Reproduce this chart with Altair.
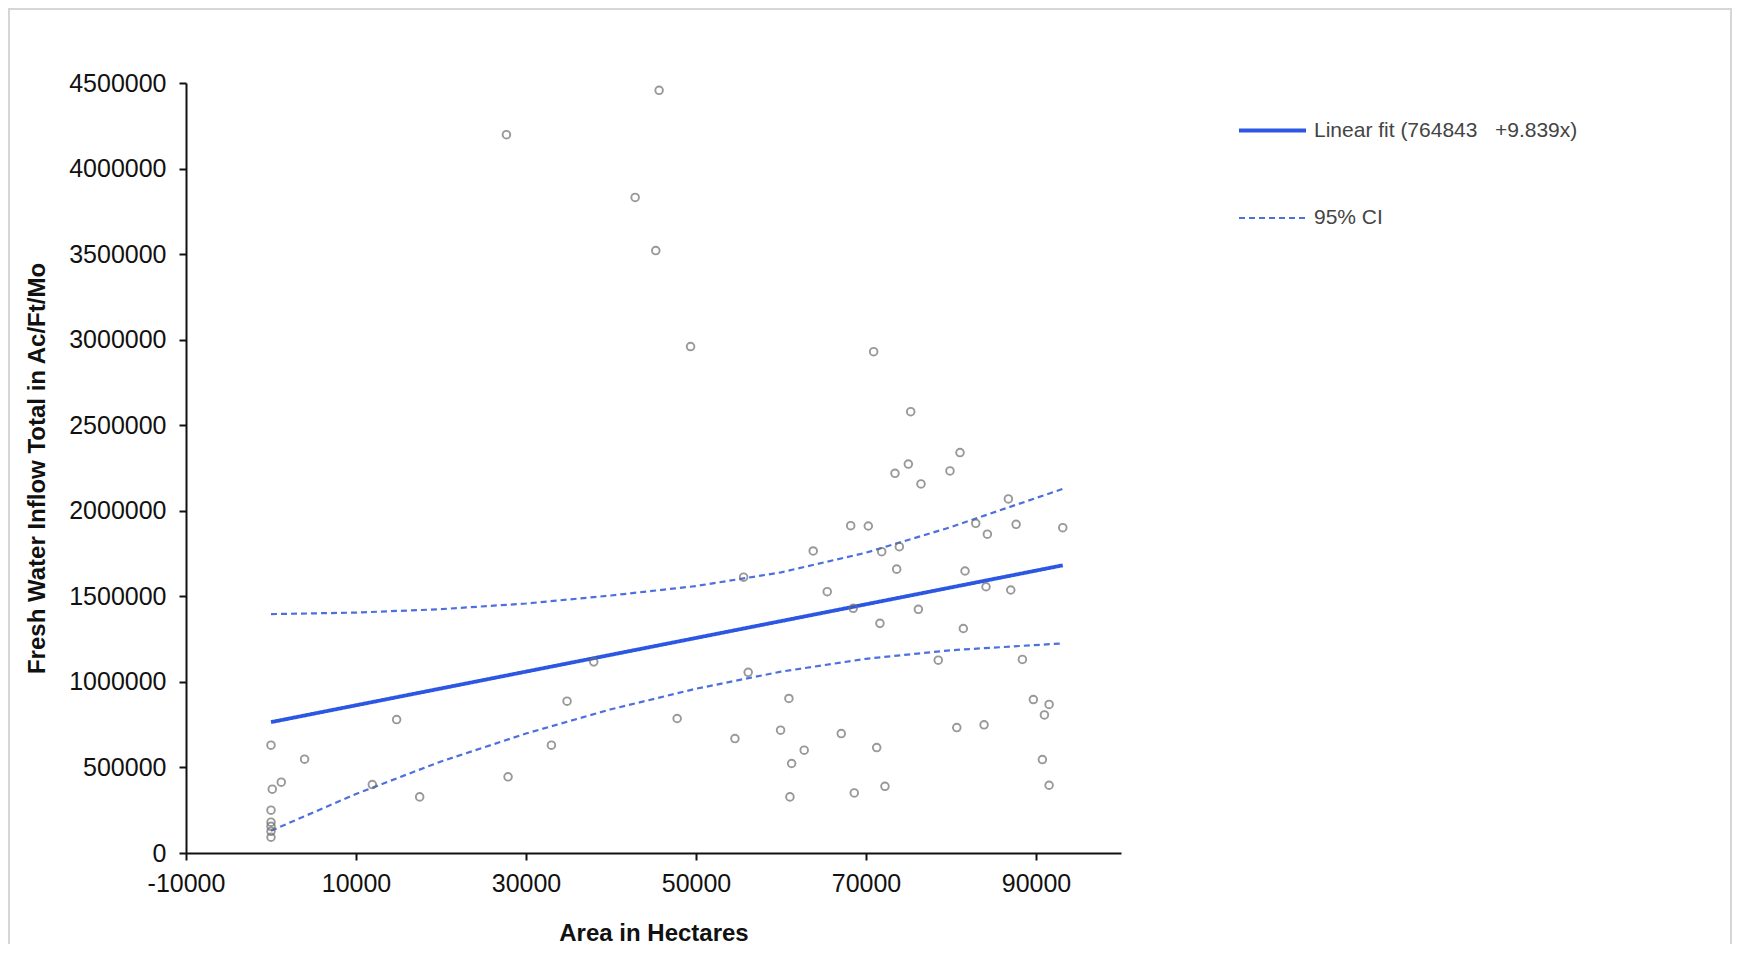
import altair as alt
import pandas as pd

# Scatter data (Area in hectares vs fresh water inflow)
area = [0, 3950, 1210, 150, 0, 0, 0, 0, 0,
        11920, 14780, 17490, 27890, 27700, 32990, 34830, 37970, 42840, 45270,
        45660, 47780, 49360, 54580, 55600, 56140, 59950, 60930, 61250, 61050,
        62730, 63790, 65440, 67090, 68200, 68500, 68620, 70270, 70900, 71260,
        71850, 71640, 72230, 73410, 73610, 73920, 74980, 75260, 76160, 76470,
        78500, 79880, 80680, 81060, 81450, 81650, 82910, 83890, 84120, 84280,
        86750, 87030, 87660, 88400, 89690, 90750, 90990, 91540, 91540, 93150]
inflow = [630000, 548000, 414000, 373000, 250000, 180000, 156000, 127000, 92000,
          400000, 780000, 328000, 445000, 4198000, 630000, 887000, 1117000, 3831000, 3521000,
          4457000, 786000, 2960000, 669000, 1612000, 1056000, 718000, 903000, 523000, 328000,
          601000, 1765000, 1527000, 698000, 1913000, 1430000, 351000, 1911000, 2930000, 616000,
          1761000, 1342000, 390000, 2219000, 1659000, 1790000, 2273000, 2579000, 1424000, 2157000,
          1127000, 2233000, 733000, 2340000, 1312000, 1648000, 1927000, 749000, 1556000, 1863000,
          2069000, 1537000, 1921000, 1131000, 897000, 546000, 807000, 868000, 396000, 1901000]

# Linear fit line (as drawn)
fit_label = "Linear fit (764843\u00a0\u00a0\u00a0+9.839x)"
fit_x = [0, 93150]
fit_y = [764843, 1681350]

# 95% confidence band curves (as drawn)
ci_label = "95% CI"
ci_x = [0, 10000, 20000, 30000, 40000, 50000, 60000, 70000, 80000, 93150]
ci_upper = [1396000, 1405000, 1425000, 1458000, 1505000, 1560000, 1640000, 1755000, 1905000, 2128000]
ci_lower = [130000, 345000, 535000, 698000, 840000, 960000, 1060000, 1135000, 1185000, 1225000]

x_ticks = [-10000, 10000, 30000, 50000, 70000, 90000]
y_ticks = [0, 500000, 1000000, 1500000, 2000000, 2500000, 3000000, 3500000, 4000000, 4500000]

pts = pd.DataFrame({"area": area, "inflow": inflow})

rows = []
for xv, yv in zip(fit_x, fit_y):
    rows.append({"series": fit_label, "part": "fit", "area": xv, "inflow": yv})
for xv, yv in zip(ci_x, ci_upper):
    rows.append({"series": ci_label, "part": "upper", "area": xv, "inflow": yv})
for xv, yv in zip(ci_x, ci_lower):
    rows.append({"series": ci_label, "part": "lower", "area": xv, "inflow": yv})
lines = pd.DataFrame(rows)

FONT = "Liberation Sans"
W, H = 935, 770
LABEL_EXPR = "datum.value < 0 ? '-' + format(-datum.value, 'd') : format(datum.value, 'd')"

xscale = alt.Scale(domain=[-10000, 100000], nice=False, zero=False)
yscale = alt.Scale(domain=[0, 4500000], nice=False)

xaxis = alt.Axis(values=x_ticks, labelExpr=LABEL_EXPR, grid=False, title="Area in Hectares",
                 titleY=68, titleFontSize=24, titleFontWeight="bold", titleFont=FONT,
                 titleColor="#111111",
                 labelFontSize=25, labelFont=FONT, labelColor="#111111", labelPadding=11,
                 domainColor="#111111", domainWidth=2, tickColor="#111111", tickWidth=2,
                 tickSize=7, labelFlush=False, labelOverlap=False)
yaxis = alt.Axis(values=y_ticks, labelExpr=LABEL_EXPR, grid=False,
                 title="Fresh Water Inflow Total in Ac/Ft/Mo",
                 titleX=-137, titleFontSize=24, titleFontWeight="bold", titleFont=FONT,
                 titleColor="#111111",
                 labelFontSize=25, labelFont=FONT, labelColor="#111111", labelPadding=13,
                 domainColor="#111111", domainWidth=2, tickColor="#111111", tickWidth=2,
                 tickSize=7, labelFlush=False, labelOverlap=False)

points = alt.Chart(pts).mark_point(shape="circle", filled=False, color="#6e6e6e",
                                   size=58, strokeWidth=1.9).encode(
    x=alt.X("area:Q", scale=xscale, axis=xaxis),
    y=alt.Y("inflow:Q", scale=yscale, axis=yaxis),
)

dom = [fit_label, ci_label]
legend = alt.Legend(title=None, orient="none", legendX=1051, legendY=12,
                    symbolType="stroke", symbolSize=4489, labelFontSize=21,
                    labelFont=FONT, labelColor="#444444", rowPadding=42,
                    labelOffset=6, labelLimit=500)

line_layer = alt.Chart(lines).mark_line().encode(
    x=alt.X("area:Q", scale=xscale),
    y=alt.Y("inflow:Q", scale=yscale),
    detail="part:N",
    color=alt.Color("series:N", scale=alt.Scale(domain=dom, range=["#2b57e3", "#4d6fe0"]),
                    legend=legend),
    strokeDash=alt.StrokeDash("series:N", scale=alt.Scale(domain=dom, range=[[1, 0], [6, 4]]),
                              legend=legend),
    strokeWidth=alt.StrokeWidth("series:N", scale=alt.Scale(domain=dom, range=[3.8, 2.2]),
                                legend=legend),
)

frame = alt.Chart(pts).mark_rect(fill="transparent", stroke="#d6d6d6", strokeWidth=2).encode(
    x=alt.value(-177), x2=alt.value(1545), y=alt.value(-74), y2=alt.value(920)
)

chart = alt.layer(frame, line_layer, points).properties(
    width=W, height=H,
    autosize=alt.AutoSizeParams(type="none"),
    padding={"left": 178, "top": 75, "right": 612, "bottom": 91},
    background="white",
).configure_view(strokeWidth=0)

chart.save("out.html", embed_options={"renderer": "svg", "actions": False})
